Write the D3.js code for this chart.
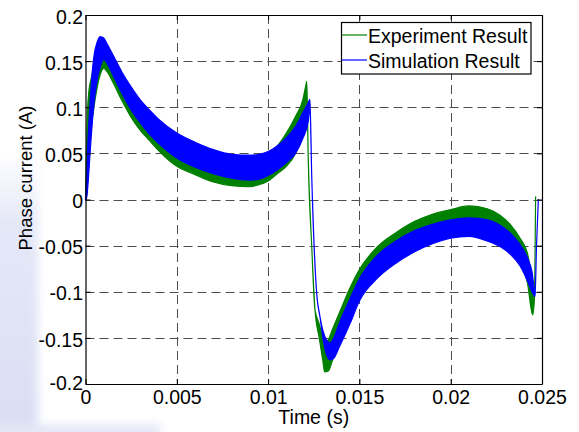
<!DOCTYPE html>
<html>
<head>
<meta charset="utf-8">
<script src="https://cdn.jsdelivr.net/npm/d3@7/dist/d3.min.js"></script>
<style>
  html, body { margin: 0; padding: 0; background: #fff; }
  svg { display: block; font-family: "Liberation Sans", Arial, sans-serif; }
</style>
</head>
<body>
<svg id="chart" width="579" height="432"></svg>
<script>
// Phase current: measured vs simulated (envelope of the ripple band, in A)
const expTime = [0, 0.00005, 0.0001, 0.0002, 0.0003, 0.0005, 0.0008, 0.001, 0.0012, 0.0015, 0.002, 0.0025, 0.003, 0.0035, 0.004, 0.005, 0.006, 0.007, 0.008, 0.009, 0.0095, 0.010, 0.0105, 0.011, 0.0115, 0.0119, 0.01205, 0.01212, 0.0122, 0.01239, 0.01257, 0.0128, 0.0130, 0.0131, 0.0133, 0.0135, 0.0139, 0.0145, 0.015, 0.016, 0.017, 0.018, 0.019, 0.020, 0.021, 0.022, 0.0227, 0.0233, 0.0238, 0.0242, 0.02449, 0.02458, 0.02465];
const expHigh = [0, 0.05, 0.09, 0.12, 0.13, 0.148, 0.158, 0.157, 0.152, 0.145, 0.128, 0.112, 0.098, 0.087, 0.078, 0.063, 0.053, 0.046, 0.042, 0.042, 0.045, 0.05, 0.058, 0.072, 0.09, 0.108, 0.122, 0.128, 0.043, -0.051, -0.12, -0.135, -0.15, -0.155, -0.152, -0.142, -0.123, -0.095, -0.076, -0.051, -0.036, -0.024, -0.016, -0.011, -0.007, -0.01, -0.017, -0.028, -0.042, -0.058, -0.095, -0.11, 0.003];
const expLow  = [0, 0.0, 0.03, 0.055, 0.075, 0.105, 0.135, 0.142, 0.138, 0.127, 0.107, 0.089, 0.075, 0.064, 0.053, 0.036, 0.027, 0.019, 0.015, 0.014, 0.016, 0.02, 0.028, 0.036, 0.05, 0.072, 0.098, 0.115, 0.043, -0.051, -0.12, -0.15, -0.175, -0.187, -0.186, -0.176, -0.155, -0.125, -0.105, -0.08, -0.062, -0.05, -0.04, -0.035, -0.032, -0.036, -0.045, -0.055, -0.07, -0.09, -0.125, -0.11, 0.003];

const simTime = [0, 0.00005, 0.00015, 0.00025, 0.0004, 0.0005, 0.0006, 0.0008, 0.001, 0.0012, 0.0015, 0.002, 0.0025, 0.003, 0.0035, 0.004, 0.005, 0.006, 0.007, 0.008, 0.009, 0.0095, 0.010, 0.0105, 0.011, 0.0115, 0.0119, 0.0122, 0.01229, 0.01239, 0.01266, 0.01284, 0.0130, 0.0132, 0.0134, 0.0136, 0.0139, 0.0145, 0.015, 0.016, 0.017, 0.018, 0.019, 0.020, 0.021, 0.022, 0.0227, 0.0233, 0.0238, 0.0242, 0.02445, 0.02462, 0.0247, 0.0248];
const simHigh = [0, 0.02, 0.07, 0.105, 0.145, 0.16, 0.168, 0.1765, 0.175, 0.168, 0.157, 0.138, 0.122, 0.108, 0.097, 0.087, 0.072, 0.062, 0.054, 0.049, 0.048, 0.049, 0.052, 0.058, 0.067, 0.079, 0.094, 0.105, 0.1086, 0.025, -0.1017, -0.127, -0.142, -0.152, -0.155, -0.15, -0.134, -0.107, -0.086, -0.06, -0.045, -0.034, -0.027, -0.022, -0.02, -0.022, -0.028, -0.037, -0.049, -0.063, -0.078, -0.1, -0.05, 0];
const simLow  = [0, 0, 0.02, 0.05, 0.09, 0.11, 0.125, 0.143, 0.152, 0.147, 0.135, 0.115, 0.097, 0.083, 0.071, 0.061, 0.045, 0.035, 0.028, 0.023, 0.021, 0.022, 0.026, 0.032, 0.04, 0.05, 0.066, 0.085, 0.1, 0.025, -0.1017, -0.127, -0.15, -0.168, -0.174, -0.172, -0.16, -0.134, -0.11, -0.085, -0.069, -0.057, -0.048, -0.042, -0.04, -0.045, -0.051, -0.06, -0.072, -0.088, -0.1, -0.105, -0.05, 0];

const xTicks = [0, 0.005, 0.01, 0.015, 0.02, 0.025];
const xTickLabels = ["0", "0.005", "0.01", "0.015", "0.02", "0.025"];
const yTicks = [-0.2, -0.15, -0.1, -0.05, 0, 0.05, 0.1, 0.15, 0.2];
const yTickLabels = ["-0.2", "-0.15", "-0.1", "-0.05", "0", "0.05", "0.1", "0.15", "0.2"];

const seriesNames = ["Experiment Result", "Simulation Result"];
const seriesColors = ["#008000", "#0000ff"];

const svg = d3.select("#chart");
const plotLeft = 85.5, plotRight = 542, plotTop = 15, plotBottom = 384;

const x = d3.scaleLinear().domain([0, 0.025]).range([plotLeft, plotRight]);
const y = d3.scaleLinear().domain([-0.2, 0.2]).range([plotBottom, plotTop]);

// faint bluish smudge along the left edge of the page
const defs = svg.append("defs");
defs.append("filter").attr("id", "soft").attr("x", "-50%").attr("y", "-50%")
  .attr("width", "200%").attr("height", "200%")
  .append("feGaussianBlur").attr("stdDeviation", 4);
const grad = defs.append("linearGradient").attr("id", "edge")
  .attr("x1", 0).attr("y1", 0).attr("x2", 0).attr("y2", 1);
grad.append("stop").attr("offset", "0").attr("stop-color", "#dfe4f7").attr("stop-opacity", 0);
grad.append("stop").attr("offset", "0.25").attr("stop-color", "#d9def4").attr("stop-opacity", 0.7);
grad.append("stop").attr("offset", "1").attr("stop-color", "#d2d8f2").attr("stop-opacity", 0.85);
const bg = svg.append("g").attr("filter", "url(#soft)");
bg.append("rect").attr("x", -10).attr("y", 150).attr("width", 48).attr("height", 290).attr("fill", "url(#edge)");
bg.append("rect").attr("x", -10).attr("y", 424).attr("width", 170).attr("height", 14).attr("fill", "#e4e8f5");

// dashed grid
const grid = svg.append("g").attr("stroke", "#4d4d4d").attr("stroke-width", 1)
  .attr("stroke-dasharray", "9,5").attr("fill", "none");
grid.selectAll("line.v").data(xTicks.slice(1, -1)).join("line")
  .attr("x1", d => Math.round(x(d)) + 0.5).attr("x2", d => Math.round(x(d)) + 0.5)
  .attr("y1", plotTop).attr("y2", plotBottom);
grid.selectAll("line.h").data(yTicks.slice(1, -1)).join("line")
  .attr("y1", d => Math.round(y(d)) + 0.5).attr("y2", d => Math.round(y(d)) + 0.5)
  .attr("x1", plotLeft).attr("x2", plotRight);

// ripple bands
const band = d3.area().curve(d3.curveMonotoneX)
  .x(d => x(d.t)).y0(d => y(d.lo)).y1(d => y(d.hi));
const expData = expTime.map((t, i) => ({ t, hi: expHigh[i], lo: expLow[i] }));
const simData = simTime.map((t, i) => ({ t, hi: simHigh[i], lo: simLow[i] }));

const plot = svg.append("g");
plot.append("path").datum(expData).attr("d", band)
  .attr("fill", seriesColors[0]).attr("stroke", seriesColors[0]).attr("stroke-width", 1.2)
  .attr("stroke-linejoin", "round");
plot.append("path").datum(simData).attr("d", band)
  .attr("fill", seriesColors[1]).attr("stroke", seriesColors[1]).attr("stroke-width", 1.2)
  .attr("stroke-linejoin", "round");

// axes with inward ticks on all four sides
const fontSize = 19.5;
const gx = svg.append("g").attr("transform", `translate(0,${plotBottom})`)
  .call(d3.axisBottom(x).tickValues(xTicks).tickSizeInner(-5).tickSizeOuter(0)
    .tickPadding(6).tickFormat((d, i) => xTickLabels[i]));
const gy = svg.append("g").attr("transform", `translate(${plotLeft},0)`)
  .call(d3.axisLeft(y).tickValues(yTicks).tickSizeInner(-5).tickSizeOuter(0)
    .tickPadding(2.5).tickFormat((d, i) => yTickLabels[i]));
const gt = svg.append("g").attr("transform", `translate(0,${plotTop})`)
  .call(d3.axisTop(x).tickValues(xTicks).tickSizeInner(-5).tickSizeOuter(0).tickFormat(""));
const gr = svg.append("g").attr("transform", `translate(${plotRight},0)`)
  .call(d3.axisRight(y).tickValues(yTicks).tickSizeInner(-5).tickSizeOuter(0).tickFormat(""));

[gx, gy, gt, gr].forEach(g => {
  g.selectAll(".domain").attr("stroke", "#000").attr("stroke-width", 1.2);
  g.selectAll(".tick line").attr("stroke", "#000");
  g.selectAll("text").attr("fill", "#000")
    .style("font-family", '"Liberation Sans", Arial, sans-serif')
    .style("font-size", fontSize + "px");
});
gy.selectAll("text").attr("dy", "0.42em");
// the lowest value label sits a touch higher so it clears the first time label
gy.selectAll("text").filter(d => d === -0.2).attr("dy", "0.3em");

// axis titles
svg.append("text").attr("x", (plotLeft + plotRight) / 2).attr("y", 424)
  .attr("text-anchor", "middle").style("font-size", fontSize + "px").text("Time (s)");
svg.append("text").attr("transform", "translate(31.5,178) rotate(-90)")
  .attr("text-anchor", "middle").style("font-size", "18.5px").text("Phase current (A)");

// legend
const lg = svg.append("g");
lg.append("rect").attr("x", 341.5).attr("y", 22.5).attr("width", 189.5).attr("height", 51.5)
  .attr("fill", "#fff").attr("stroke", "#000").attr("stroke-width", 1.2);
seriesNames.forEach((name, i) => {
  const ly = 35 + i * 25;
  lg.append("line").attr("x1", 342).attr("x2", 367).attr("y1", ly).attr("y2", ly)
    .attr("stroke", seriesColors[i]).attr("stroke-width", 1.2);
  lg.append("text").attr("x", 368).attr("y", ly + 7.5)
    .style("font-size", fontSize + "px").attr("fill", "#000").text(name);
});
</script>
</body>
</html>
